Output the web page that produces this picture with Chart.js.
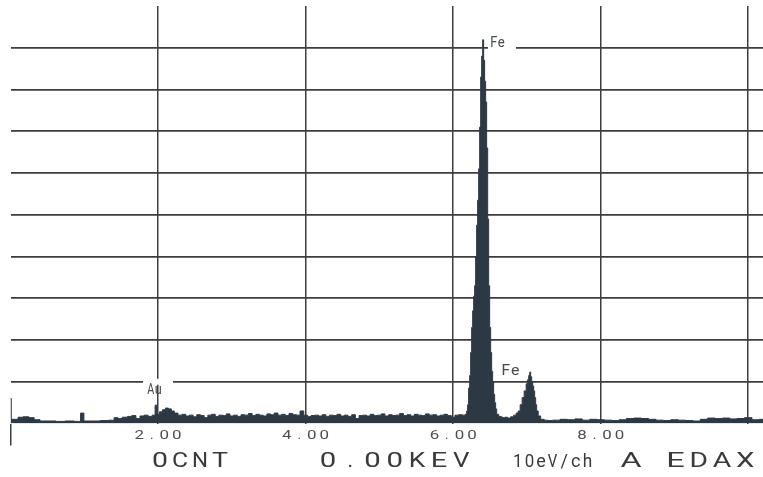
<!DOCTYPE html>
<html><head><meta charset="utf-8">
<script src="https://cdn.jsdelivr.net/npm/chart.js@4.4.0/dist/chart.umd.min.js"></script>
<style>html,body{margin:0;padding:0;background:#fff;overflow:hidden}</style>
</head><body>
<canvas id="c" width="763" height="477"></canvas>
<script>
// Spectrum: energy (keV) and height (in grid divisions)
const energyKeV = [
  0.00,0.02,0.075,0.13,0.21,0.29,0.35,0.45,0.56,0.67,0.81,0.92,0.98,1.01,1.15,1.28,1.38,1.43,1.48,1.55,
  1.62,1.67,1.73,1.78,1.84,1.89,1.95,1.97,2.00,2.04,2.08,2.12,2.16,2.20,2.24,2.30,
  2.35,2.40,2.45,2.50,2.55,2.60,2.65,2.70,2.75,2.80,2.85,2.90,2.95,3.00,3.05,3.10,3.15,3.20,3.25,3.30,
  3.35,3.40,3.45,3.50,3.55,3.60,3.65,3.70,3.75,3.80,3.85,3.90,3.95,4.00,4.05,4.10,4.15,4.20,4.25,4.30,
  4.35,4.40,4.45,4.50,4.55,4.60,4.65,4.70,4.75,4.80,4.85,4.90,4.95,5.00,5.05,5.10,5.15,5.20,5.25,5.30,
  5.35,5.40,5.45,5.50,5.55,5.60,5.65,5.70,5.75,5.80,5.85,5.90,5.95,6.00,6.05,6.10,6.15,
  6.176,6.190,6.203,6.217,6.231,6.244,6.258,6.271,6.285,6.298,6.312,6.325,6.339,6.353,6.366,6.380,
  6.393,6.407,6.420,6.434,6.447,6.461,6.475,6.488,6.502,6.515,6.529,6.542,6.556,6.569,6.583,6.597,
  6.637,6.678,6.719,6.759,6.800,6.841,6.868,6.895,6.922,6.949,6.976,7.003,7.017,7.032,7.044,7.058,
  7.071,7.085,7.098,7.112,7.125,7.139,7.166,7.207,7.261,
  7.30,7.40,7.50,7.60,7.70,7.80,7.90,8.00,8.10,8.20,8.30,8.40,8.50,8.60,8.70,8.80,8.90,9.00,9.10,9.20,
  9.30,9.40,9.50,9.60,9.70,9.80,9.90,10.00,10.10,10.20
];
const intensity = [
  0.60,0.10,0.10,0.15,0.16,0.14,0.09,0.06,0.06,0.05,0.06,0.05,0.25,0.06,0.06,0.07,0.08,0.14,0.12,0.15,
  0.17,0.19,0.12,0.18,0.20,0.17,0.20,0.44,0.22,0.28,0.33,0.37,0.35,0.30,0.25,0.20,
  0.22,0.18,0.20,0.16,0.21,0.19,0.14,0.20,0.22,0.17,0.20,0.19,0.23,0.18,0.20,0.17,0.21,0.20,0.24,0.19,
  0.22,0.20,0.18,0.23,0.21,0.25,0.20,0.22,0.19,0.24,0.21,0.20,0.30,0.20,0.17,0.19,0.20,0.18,0.21,0.17,
  0.20,0.19,0.22,0.18,0.20,0.17,0.21,0.12,0.19,0.20,0.18,0.22,0.19,0.20,0.23,0.18,0.21,0.19,0.20,0.24,
  0.19,0.21,0.18,0.22,0.20,0.19,0.23,0.20,0.21,0.18,0.20,0.22,0.19,0.15,0.20,0.21,0.20,
  0.22,0.30,0.45,0.85,1.15,1.70,2.30,2.70,3.05,3.30,4.00,4.75,5.35,6.10,7.10,8.30,
  8.80,9.19,8.70,8.20,7.70,6.60,4.90,3.30,2.30,1.70,1.25,1.00,0.70,0.50,0.35,0.22,
  0.17,0.14,0.15,0.13,0.16,0.20,0.25,0.30,0.45,0.62,0.78,0.95,1.05,1.15,1.23,1.12,
  1.00,0.90,0.78,0.62,0.45,0.30,0.18,0.10,0.08,
  0.07,0.08,0.10,0.09,0.11,0.08,0.10,0.09,0.08,0.07,0.09,0.12,0.13,0.12,0.10,0.08,0.07,0.09,0.08,0.07,
  0.06,0.10,0.13,0.12,0.13,0.11,0.12,0.14,0.09,0.10
];
const xTickValues = [0, 2, 4, 6, 8, 10];
const xTickLabels = ['', '2.00', '4.00', '6.00', '8.00', ''];
const yGridValues = [1, 2, 3, 4, 5, 6, 7, 8, 9];
const peakNames = ['Au', 'Fe', 'Fe'];
const peakLabelKeV = [1.85, 6.50, 6.65];
const peakLabelLevel = [0.71, 9.02, 1.16];
const statusTexts = ['0CNT', '0.00KEV', '10eV/ch', 'A', 'EDAX'];

const GRID = '#3d3d3d';
const INK = '#2c3945';
const NARROW = '.,/:';

// draw text on a fixed character pitch (like the plotter's monospace font)
function drawMono(ctx, text, xLeft, yb, size, pitch, glyphW) {
  ctx.font = size + 'px Roboto, "DejaVu Sans"';
  ctx.textAlign = 'center';
  ctx.textBaseline = 'alphabetic';
  for (let i = 0; i < text.length; i++) {
    const ch = text[i];
    const w = ctx.measureText(ch).width || 1;
    const sx = NARROW.includes(ch) ? 1 : glyphW / w;
    ctx.save();
    ctx.translate(xLeft + pitch * (i + 0.5), yb);
    ctx.scale(sx, 1);
    ctx.fillText(ch, 0, 0);
    ctx.restore();
  }
}

const overlay = {
  id: 'overlay',
  afterDatasetsDraw(chart) {
    const { ctx, scales: { x, y } } = chart;
    ctx.save();
    // white gaps in the grid lines behind the Au and first Fe labels
    ctx.fillStyle = '#ffffff';
    const fx = x.getPixelForValue(peakLabelKeV[1]);
    ctx.fillRect(fx - 2, y.getPixelForValue(9) - 5, 28, 10);
    const ax = x.getPixelForValue(peakLabelKeV[0]);
    ctx.fillRect(ax - 4, y.getPixelForValue(1) - 3, 16, 6);
    ctx.fillRect(ax + 12, y.getPixelForValue(1) - 3, 14, 6);
    // peak labels
    ctx.fillStyle = '#4a4a4a';
    peakNames.forEach((n, i) => {
      const px = x.getPixelForValue(peakLabelKeV[i]);
      const py = y.getPixelForValue(peakLabelLevel[i]);
      if (i === 2) drawMono(ctx, n, px, py, 15, 9.5, 8.5);
      else drawMono(ctx, n, px, py, 14.5, 7.5, 7);
    });
    // x tick labels
    ctx.fillStyle = '#505050';
    xTickValues.forEach((v, i) => {
      const t = xTickLabels[i];
      if (!t) return;
      const pitch = 12.5;
      drawMono(ctx, t, x.getPixelForValue(v) - pitch * t.length / 2, 439, 13.5, pitch, 9.5);
    });
    // status line
    ctx.fillStyle = '#3a3a3a';
    drawMono(ctx, statusTexts[0], 150, 467, 21, 20, 16);
    drawMono(ctx, statusTexts[1], 317, 467, 21, 22.2, 16.5);
    drawMono(ctx, statusTexts[2], 512, 467, 18, 11.6, 9.5);
    drawMono(ctx, statusTexts[3], 619, 467, 21, 24, 21);
    drawMono(ctx, statusTexts[4], 664, 467, 21, 23.2, 18.5);
    ctx.restore();
  }
};

new Chart(document.getElementById('c'), {
  type: 'line',
  data: {
    datasets: [{
      data: energyKeV.map((e, i) => ({ x: e, y: intensity[i] })),
      borderColor: INK,
      backgroundColor: INK,
      borderWidth: 1,
      pointRadius: 0,
      fill: 'origin',
      stepped: 'middle',
      tension: 0
    }]
  },
  options: {
    responsive: false,
    animation: false,
    layout: { padding: { left: 10.5, top: 6, right: 0, bottom: 0 } },
    plugins: { legend: { display: false }, tooltip: { enabled: false } },
    scales: {
      x: {
        type: 'linear', min: 0, max: 10.2,
        afterBuildTicks: s => { s.ticks = xTickValues.map(v => ({ value: v })); },
        afterFit: s => { s.height = 53.5; },
        ticks: { display: false },
        border: { display: false },
        grid: {
          color: c => (c.tick && c.tick.value === 0) ? 'rgba(0,0,0,0)' : GRID,
          lineWidth: 1.5,
          drawTicks: true,
          tickLength: 22,
          tickWidth: 1.5,
          tickColor: c => (c.tick && c.tick.value === 0) ? GRID : 'rgba(0,0,0,0)'
        }
      },
      y: {
        min: 0, max: 10,
        afterBuildTicks: s => { s.ticks = yGridValues.map(v => ({ value: v })); },
        afterFit: s => { s.width = 0; },
        ticks: { display: false },
        border: { display: false },
        grid: { color: GRID, lineWidth: 1.8, drawTicks: false }
      }
    }
  },
  plugins: [overlay]
});
</script>
</body></html>
